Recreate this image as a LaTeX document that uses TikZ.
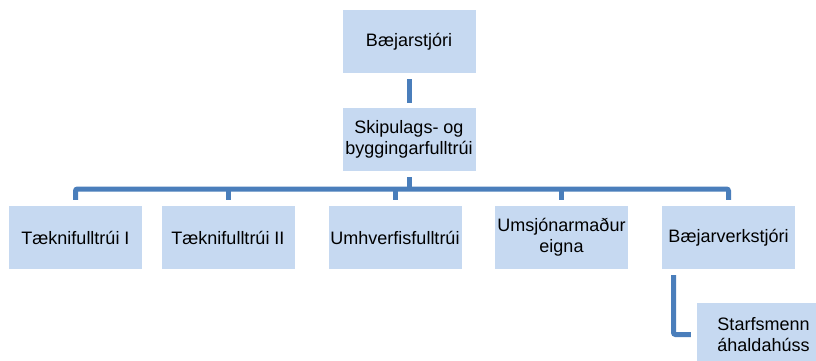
\documentclass[tikz,border=0pt]{standalone}
\usepackage{fontspec}
\setmainfont{Liberation Sans}
\usetikzlibrary{calc}
\definecolor{boxfill}{HTML}{C6D9F1}
\definecolor{connblue}{HTML}{4A7EBB}
\tikzset{
  orgbox/.style={fill=boxfill, draw=none, minimum width=133pt, minimum height=63pt,
    inner sep=1pt, align=center, font=\fontsize{18pt}{21pt}\selectfont},
  conn/.style={draw=connblue, line width=5pt, rounded corners=2pt}
}
\begin{document}
\begin{tikzpicture}[x=1pt,y=-1pt]
\clip (0,0) rectangle (816,360);
\fill[white] (0,0) rectangle (816,360);
\useasboundingbox (0,0) rectangle (816,360);
\node[orgbox] (top) at (409,41.5) {Bæjarstjóri};
\node[orgbox] (mid) at (409,139.5) {Skipulags- og\\byggingarfulltrúi};
\node[orgbox] (c1) at (75.5,237.5) {Tæknifulltrúi I};
\node[orgbox] (c2) at (228,237.5) {Tæknifulltrúi II};
\node[orgbox] (c3) at (395,237.5) {Umhverfisfulltrúi};
\node[orgbox] (c4) at (561.5,237.5) {Umsjónarmaður\\eigna};
\node[orgbox] (c5) at (728.5,237.5) {Bæjarverkstjóri};
\node[orgbox] (sub) at (763.5,334.5) {Starfsmenn\\áhaldahúss};
\coordinate (busy) at (0,189);
\draw[conn] ([yshift=-6pt]top.south) -- ([yshift=5pt]mid.north);
\draw[conn] ([yshift=-6pt]mid.south) -- (mid.south |- busy);
\draw[conn] ([yshift=6pt]c1.north) -- (c1.north |- busy) -- (c5.north |- busy) -- ([yshift=6pt]c5.north);
\draw[conn] ([yshift=6pt]c2.north) -- (c2.north |- busy);
\draw[conn] ([yshift=6pt]c3.north) -- (c3.north |- busy);
\draw[conn] ([yshift=6pt]c4.north) -- (c4.north |- busy);
\draw[conn] ([xshift=-55pt,yshift=-6pt]c5.south) |- ([xshift=-6pt]sub.west);
\end{tikzpicture}
\end{document}
